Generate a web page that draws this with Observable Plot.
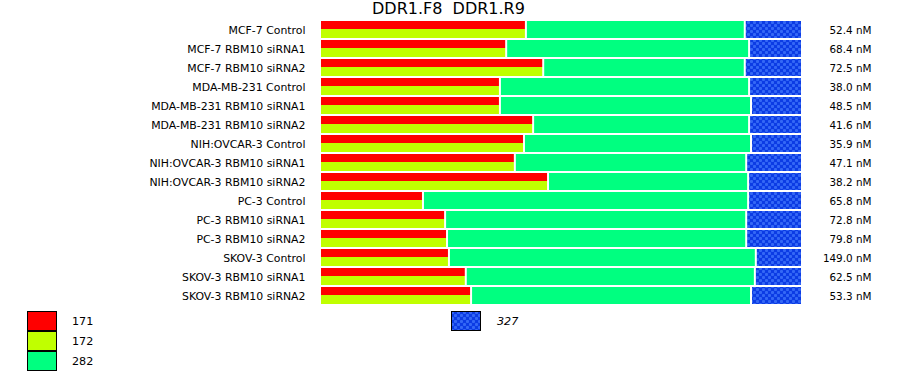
<!DOCTYPE html>
<html>
<head>
<meta charset="utf-8">
<script src="https://cdn.jsdelivr.net/npm/d3@7"></script>
<script src="https://cdn.jsdelivr.net/npm/@observablehq/plot@0.6"></script>
<style>
  html, body { margin: 0; padding: 0; background: #fff; }
  #wrap { position: relative; width: 900px; height: 375px; overflow: hidden; font-family: "DejaVu Sans", sans-serif; color: #000; }
  #title { position: absolute; left: 372px; top: 1px; font-size: 16px; line-height: 1; white-space: pre; }
  .sw { position: absolute; width: 30px; height: 20px; box-sizing: border-box; border: 1px solid #000; }
  .lab { position: absolute; font-size: 11.2px; line-height: 20px; height: 20px; }
</style>
</head>
<body>
<div id="wrap">
  <div id="chart"></div>
  <div id="title">DDR1.F8  DDR1.R9</div>
  <div id="legend"></div>
</div>
<script>
// ---- data ----
const samples = [
  "MCF-7 Control", "MCF-7 RBM10 siRNA1", "MCF-7 RBM10 siRNA2",
  "MDA-MB-231 Control", "MDA-MB-231 RBM10 siRNA1", "MDA-MB-231 RBM10 siRNA2",
  "NIH:OVCAR-3 Control", "NIH:OVCAR-3 RBM10 siRNA1", "NIH:OVCAR-3 RBM10 siRNA2",
  "PC-3 Control", "PC-3 RBM10 siRNA1", "PC-3 RBM10 siRNA2",
  "SKOV-3 Control", "SKOV-3 RBM10 siRNA1", "SKOV-3 RBM10 siRNA2"
];
// percent of each bar (171 and 172 share the same width, drawn as two halves)
const p171 = [42.6, 38.5, 46.2, 37.2, 37.2, 44.1, 42.2, 40.3, 47.2, 21.2, 25.8, 26.2, 26.6, 30.1, 31.2];
const p172 = [42.6, 38.5, 46.2, 37.2, 37.2, 44.1, 42.2, 40.3, 47.2, 21.2, 25.8, 26.2, 26.6, 30.1, 31.2];
const p282 = [45.5, 50.5, 41.9, 51.8, 52.2, 44.9, 47.2, 48.1, 41.6, 67.6, 62.6, 62.2, 63.8, 60.1, 58.2];
const p327 = [11.9, 11.0, 11.9, 11.0, 10.6, 11.0, 10.6, 11.6, 11.2, 11.2, 11.6, 11.6, 9.6, 9.8, 10.6];
const conc = [52.4, 68.4, 72.5, 38.0, 48.5, 41.6, 35.9, 47.1, 38.2, 65.8, 72.8, 79.8, 149.0, 62.5, 53.3];
const seriesNames = ["171", "172", "282", "327"];
const seriesColors = ["#ff0000", "#c0ff00", "#00ff80", "url(#dots327)"];

const rows = samples.map((s, i) => ({
  sample: s,
  a171: p171[i],
  a172: p172[i],
  g1: Math.max(p171[i], p172[i]),
  g2: Math.max(p171[i], p172[i]) + p282[i],
  b2: Math.max(p171[i], p172[i]) + p282[i] + p327[i],
  conc: conc[i]
}));

const plot = Plot.plot({
  width: 900,
  height: 310,
  marginTop: 21,
  marginBottom: 4,
  marginLeft: 321,
  marginRight: 98,
  style: { fontFamily: "DejaVu Sans, sans-serif", fontSize: "10.6px", background: "transparent", color: "#000" },
  x: { domain: [0, 100], axis: null },
  y: { domain: samples, padding: 0, label: null },
  marks: [
    Plot.axisY({ tickSize: 0, tickPadding: 16, label: null, dy: -0.5, fontSize: 10.9 }),
    Plot.barX(rows, { y: "sample", x1: 0, x2: "a171", fill: seriesColors[0], insetRight: 1, insetBottom: 11 }),
    Plot.barX(rows, { y: "sample", x1: 0, x2: "a172", fill: seriesColors[1], insetRight: 1, insetTop: 8, insetBottom: 2 }),
    Plot.barX(rows, { y: "sample", x1: "g1", x2: "g2", fill: seriesColors[2], insetLeft: 1, insetRight: 1, insetBottom: 2 }),
    Plot.barX(rows, { y: "sample", x1: "g2", x2: "b2", fill: seriesColors[3], insetLeft: 1, insetRight: 1, insetBottom: 2 }),
    Plot.text(rows, { y: "sample", x: () => 100, text: d => d.conc.toFixed(1) + " nM", textAnchor: "end", dx: 69, dy: -0.5, fill: "#000", fontSize: 10.4 })
  ]
});

// dotted blue pattern used for series 327
const defs = d3.select(plot).insert("defs", ":first-child");
const pat = defs.append("pattern").attr("id", "dots327")
  .attr("patternUnits", "userSpaceOnUse").attr("width", 6).attr("height", 6);
pat.append("rect").attr("width", 6).attr("height", 6).attr("fill", "#0c3ce4");
const plus = (x, y) => {
  pat.append("rect").attr("x", x - 1).attr("y", y - 0.5).attr("width", 3).attr("height", 2).attr("fill", "#3468f6");
  pat.append("rect").attr("x", x - 0.5).attr("y", y - 1).attr("width", 2).attr("height", 3).attr("fill", "#3468f6");
};
plus(1, 1); plus(4, 4);

document.getElementById("chart").appendChild(plot);

// legend
const legend = document.getElementById("legend");
[0, 1, 2].forEach(i => {
  const sw = document.createElement("div");
  sw.className = "sw";
  sw.style.left = "27px";
  sw.style.top = (311 + 20 * i) + "px";
  sw.style.background = seriesColors[i];
  legend.appendChild(sw);
  const lb = document.createElement("div");
  lb.className = "lab";
  lb.style.left = "72px";
  lb.style.top = (312 + 20 * i) + "px";
  lb.textContent = seriesNames[i];
  legend.appendChild(lb);
});
const ns = "http://www.w3.org/2000/svg";
const bsw = document.createElementNS(ns, "svg");
bsw.setAttribute("width", 31); bsw.setAttribute("height", 21);
bsw.style.position = "absolute"; bsw.style.left = "451px"; bsw.style.top = "311px";
const br = document.createElementNS(ns, "rect");
br.setAttribute("x", 0.5); br.setAttribute("y", 0.5); br.setAttribute("width", 29); br.setAttribute("height", 19);
br.setAttribute("fill", seriesColors[3]); br.setAttribute("stroke", "#000");
bsw.appendChild(br);
legend.appendChild(bsw);
const bl = document.createElement("div");
bl.className = "lab";
bl.style.left = "497px"; bl.style.top = "312px"; bl.style.fontStyle = "italic";
bl.textContent = seriesNames[3];
legend.appendChild(bl);
</script>
</body>
</html>
